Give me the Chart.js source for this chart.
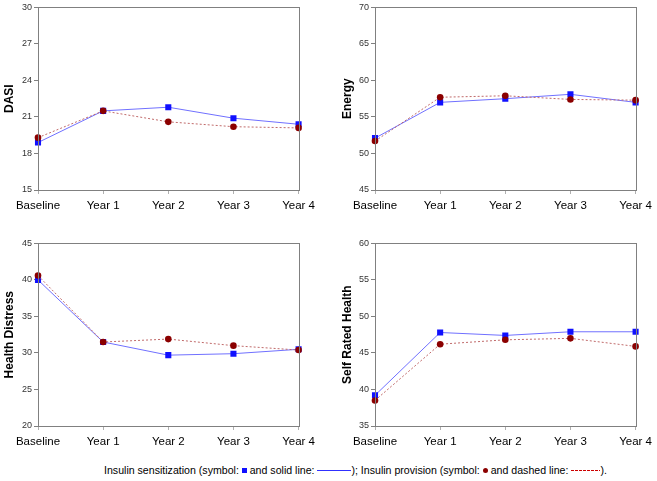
<!DOCTYPE html>
<html>
<head>
<meta charset="utf-8">
<script src="https://cdn.jsdelivr.net/npm/chart.js@4.4.1/dist/chart.umd.min.js"></script>
<style>
  body { margin: 0; background: #fff; width: 657px; height: 481px; position: relative; overflow: hidden; font-family: Arial, "Liberation Sans", sans-serif; }
  canvas { position: absolute; }
  #legend { position: absolute; left: 104px; top: 464px; font-size: 10.6px; color: #000; white-space: nowrap; }
  .sq { display: inline-block; width: 5px; height: 5px; background: #1010ff; vertical-align: 1px; }
  .dot { display: inline-block; width: 5px; height: 5px; border-radius: 50%; background: #8b0000; vertical-align: 1px; }
  .ln { display: inline-block; width: 34px; height: 1px; background: #3030ff; vertical-align: 3px; }
  .dl { display: inline-block; width: 29px; height: 1px; vertical-align: 3px;
        background: repeating-linear-gradient(to right, #cc0000 0 3px, transparent 3px 4px); }
</style>
</head>
<body>
<canvas id="dasi" width="320" height="222" style="left:0;top:0"></canvas>
<canvas id="energy" width="327" height="222" style="left:330px;top:0"></canvas>
<canvas id="distress" width="320" height="222" style="left:0;top:236px"></canvas>
<canvas id="srh" width="327" height="222" style="left:330px;top:236px"></canvas>
<div id="legend">Insulin sensitization (symbol: <span class="sq"></span> and solid line: <span class="ln"></span>); Insulin provision (symbol: <span class="dot"></span> and dashed line: <span class="dl"></span>).</div>
<script>
// datos
const timepoints = ['Baseline', 'Year 1', 'Year 2', 'Year 3', 'Year 4'];

const dasiSens = [18.9, 21.5, 21.8, 20.9, 20.4];
const dasiProv = [19.3, 21.5, 20.6, 20.2, 20.1];
const dasiTicks = [15, 18, 21, 24, 27, 30];

const energySens = [52.1, 57.0, 57.5, 58.1, 57.0];
const energyProv = [51.7, 57.7, 57.9, 57.4, 57.3];
const energyTicks = [45, 50, 55, 60, 65, 70];

const distressSens = [40.0, 31.5, 29.7, 29.9, 30.5];
const distressProv = [40.6, 31.5, 31.9, 31.0, 30.4];
const distressTicks = [20, 25, 30, 35, 40, 45];

const srhSens = [39.2, 47.8, 47.4, 47.9, 47.9];
const srhProv = [38.5, 46.2, 46.8, 47.0, 45.9];
const srhTicks = [35, 40, 45, 50, 55, 60];

// marco gris alrededor del area del grafico
const framePlugin = {
    id: 'frame',
    afterDatasetsDraw(chart) {
        const a = chart.chartArea;
        const ctx = chart.ctx;
        ctx.save();
        ctx.strokeStyle = '#808080';
        ctx.lineWidth = 1;
        ctx.strokeRect(Math.round(a.left) + 0.5, Math.round(a.top) + 0.5,
            Math.round(a.right - a.left), Math.round(a.bottom - a.top));
        ctx.restore();
    }
};

function makePanel(id, title, sens, prov, ticks, yWidth, titlePad) {
    const ctx = document.getElementById(id);
    return new Chart(ctx, {
        type: 'line',
        data: {
            labels: timepoints,
            datasets: [{
                label: 'Insulin provision',
                data: prov,
                borderColor: '#c06a6a',
                borderWidth: 1,
                borderDash: [2, 2],
                pointStyle: 'circle',
                pointRadius: 3.3,
                pointBackgroundColor: '#8b0000',
                pointBorderColor: '#8b0000',
                pointBorderWidth: 0,
                tension: 0
            }, {
                label: 'Insulin sensitization',
                data: sens,
                borderColor: '#7070ff',
                borderWidth: 1,
                pointStyle: 'rect',
                pointRadius: 4.3,
                pointBackgroundColor: '#1010ff',
                pointBorderColor: '#1010ff',
                pointBorderWidth: 0,
                tension: 0
            }]
        },
        options: {
            responsive: false,
            animation: false,
            layout: { padding: { top: 6, right: 21, left: 0, bottom: 0 } },
            plugins: { legend: { display: false }, tooltip: { enabled: false } },
            scales: {
                x: {
                    offset: false,
                    afterFit: s => { s.height = 32; },
                    border: { color: '#808080' },
                    grid: { drawOnChartArea: false, drawTicks: true, tickLength: 4, color: '#b0b0b0' },
                    ticks: { color: '#000', font: { family: 'Arial', size: 11.5 }, padding: 5, maxRotation: 0 }
                },
                y: {
                    min: ticks[0],
                    max: ticks[ticks.length - 1],
                    afterBuildTicks: s => { s.ticks = ticks.map(v => ({ value: v })); },
                    afterFit: s => { s.width = yWidth; },
                    border: { color: '#808080' },
                    grid: { drawOnChartArea: false, drawTicks: true, tickLength: 4, color: '#808080' },
                    ticks: { color: '#333', font: { family: 'Arial', size: 9 }, padding: 2 },
                    title: {
                        display: true,
                        text: title,
                        color: '#000',
                        font: { family: 'Arial', size: 12, weight: 'bold' },
                        padding: { top: titlePad, bottom: 0 }
                    }
                }
            }
        },
        plugins: [framePlugin]
    });
}

makePanel('dasi', 'DASI', dasiSens, dasiProv, dasiTicks, 38, 2);
makePanel('energy', 'Energy', energySens, energyProv, energyTicks, 45, 10);
makePanel('distress', 'Health Distress', distressSens, distressProv, distressTicks, 38, 2);
makePanel('srh', 'Self Rated Health', srhSens, srhProv, srhTicks, 45, 10);
</script>
</body>
</html>
